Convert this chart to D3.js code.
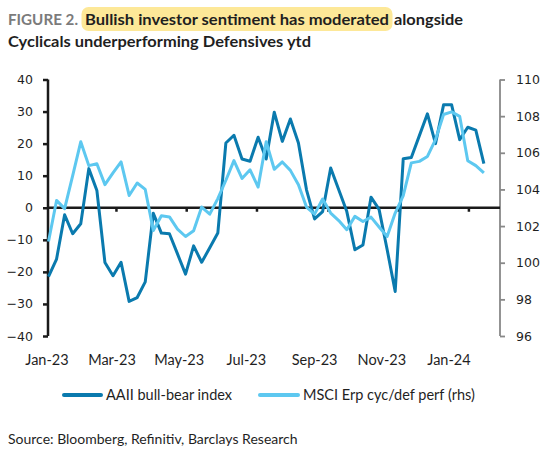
<!DOCTYPE html>
<html><head><meta charset="utf-8">
<script src="https://cdn.jsdelivr.net/npm/d3@7"></script>
<style>body{margin:0;background:#fff}svg{display:block}</style>
</head><body><svg id="c" width="546" height="451"></svg>
<script>
// ---- data ----
const startDate = "2023-01-01"; // first weekly observation
const aaii = [-21.5,-16,-2.2,-8.1,-5,12.2,5.4,-17.1,-21.2,-17,-29.2,-28,-23.1,-1.7,-7.9,-8.1,-14.4,-20.7,-11.9,-17,-12.5,-7.9,20.2,22.6,15.2,14.5,22,15.2,29.8,20.7,27.7,20.2,5.6,-3.5,-1.2,12.4,5.6,-1.2,-13.1,-11.6,3.3,-0.5,-13,-26.1,15.3,15.7,22.5,29.3,20,32.1,32.1,21.25,25.1,24.2,13.75];
const msci = [101.16,103.4,102.95,104.75,106.6,105.3,105.4,104.26,104.9,105.5,103.67,104.35,104.0,101.76,102.56,102.5,101.83,101.43,101.74,103.04,102.65,103.5,104.5,105.57,104.6,105.07,104.13,106.6,105.1,105.5,105.04,104.26,103.04,102.65,103.48,102.71,102.3,101.8,102.53,102.25,102.49,101.95,101.43,102.71,103.66,105.45,105.53,105.8,106.72,108.09,108.23,107.99,105.57,105.3,104.9];
const leftTicks = [40,30,20,10,0,-10,-20,-30,-40];
const rightTicks = [110,108,106,104,102,100,98,96];
const xTickDates = ["2023-01-01","2023-03-01","2023-05-01","2023-07-01","2023-09-01","2023-11-01","2024-01-01"];
const xTickLabels = ["Jan-23","Mar-23","May-23","Jul-23","Sep-23","Nov-23","Jan-24"];
const seriesNames = ["AAII bull-bear index","MSCI Erp cyc/def perf (rhs)"];
const seriesColors = ["#0A7AAE","#5DC8F0"];

// ---- chart ----
const parse = d3.utcParse("%Y-%m-%d");
const t0 = parse(startDate);
const dates = aaii.map((d,i)=>d3.utcDay.offset(t0, 7*i));
const svg = d3.select("#c");
const sans = "Lato, 'Source Sans Pro', 'Open Sans', sans-serif";
const num = "'DejaVu Sans', Verdana, sans-serif";
const ink = "#1f1f1f";

const x = d3.scaleUtc().domain([parse("2023-01-01"), parse("2024-01-28")]).range([48.5, 500]);
const xLab = d3.scaleUtc().domain([parse("2023-01-01"), parse("2024-01-01")]).range([47, 449]);
const yL = d3.scaleLinear().domain([-40,40]).range([336,79.5]);
const yR = d3.scaleLinear().domain([96,110]).range([336,79.5]);

// title
const title = svg.append("g");
title.append("rect").attr("x",81.5).attr("y",7).attr("width",311).attr("height",24).attr("rx",7).attr("fill","#FDE898");
const parts = [
  {t:"FIGURE 2.", c:"#7b7b7b", x:8, w:70},
  {t:"Bullish investor sentiment has moderated", c:ink, x:85, w:304},
  {t:"alongside", c:ink, x:394, w:69}
];
parts.forEach(p=>{
  title.append("text").attr("x",p.x).attr("y",25)
    .attr("font-family",sans).attr("font-weight",700).attr("font-size",16)
    .attr("textLength",p.w).attr("lengthAdjust","spacingAndGlyphs")
    .attr("fill",p.c).text(p.t);
});
title.append("text").attr("x",8).attr("y",47)
  .attr("font-family",sans).attr("font-weight",700).attr("font-size",16)
  .attr("textLength",303).attr("lengthAdjust","spacingAndGlyphs")
  .attr("fill",ink).text("Cyclicals underperforming Defensives ytd");

// left axis
const gL = svg.append("g").attr("transform","translate(48,0)")
  .call(d3.axisLeft(yL).tickValues(leftTicks).tickSize(5).tickPadding(10));
gL.select(".domain").attr("stroke","#1a1a1a").attr("stroke-width",2.5).attr("d",`M0,${yL(40)}V${yL(-40)}`);
gL.selectAll(".tick line").attr("stroke","#1a1a1a").attr("stroke-width",2.5);
gL.selectAll(".tick text").attr("font-family",num).attr("font-size",12.5).attr("fill",ink);

// right axis
const gR = svg.append("g").attr("transform","translate(500,0)")
  .call(d3.axisRight(yR).tickValues(rightTicks).tickSize(5).tickPadding(11));
gR.select(".domain").attr("stroke","#888").attr("stroke-width",1.8).attr("d",`M0,${yR(110)}V${yR(96)}`);
gR.selectAll(".tick line").attr("stroke","#888").attr("stroke-width",1.8);
gR.selectAll(".tick text").attr("font-family",num).attr("font-size",12.5).attr("fill",ink);

// x axis at zero
const y0 = yL(0);
svg.append("line").attr("x1",48).attr("x2",500).attr("y1",y0).attr("y2",y0)
  .attr("stroke","#1a1a1a").attr("stroke-width",2.5);
svg.selectAll(".xt").data(xTickDates.slice(1)).join("line").attr("class","xt")
  .attr("x1",d=>x(parse(d))).attr("x2",d=>x(parse(d)))
  .attr("y1",y0).attr("y2",y0+4).attr("stroke","#1a1a1a").attr("stroke-width",2.5);
svg.selectAll(".xl").data(xTickDates).join("text").attr("class","xl")
  .attr("x",d=>xLab(parse(d))).attr("y",365).attr("text-anchor","middle")
  .attr("font-family",sans).attr("font-size",14.5).attr("fill",ink)
  .text((d,i)=>xTickLabels[i]);

// lines
const lineL = d3.line().x((d,i)=>x(dates[i])).y(d=>yL(d));
const lineR = d3.line().x((d,i)=>x(dates[i])).y(d=>yR(d));
svg.append("path").attr("d",lineL(aaii)).attr("fill","none")
  .attr("stroke",seriesColors[0]).attr("stroke-width",3).attr("stroke-linejoin","round");
svg.append("path").attr("d",lineR(msci)).attr("fill","none")
  .attr("stroke",seriesColors[1]).attr("stroke-width",3).attr("stroke-linejoin","round");

// legend
const leg = [{x1:64,x2:101,tx:106},{x1:260,x2:298,tx:303}];
leg.forEach((l,i)=>{
  svg.append("line").attr("x1",l.x1).attr("x2",l.x2).attr("y1",395).attr("y2",395)
    .attr("stroke",seriesColors[i]).attr("stroke-width",4).attr("stroke-linecap","round");
  svg.append("text").attr("x",l.tx).attr("y",400).attr("font-family",sans)
    .attr("font-size",14.5).attr("fill",ink).text(seriesNames[i]);
});

// source
svg.append("text").attr("x",8).attr("y",444).attr("font-family",sans)
  .attr("font-size",14).attr("fill",ink).text("Source: Bloomberg, Refinitiv, Barclays Research");
</script></body></html>
